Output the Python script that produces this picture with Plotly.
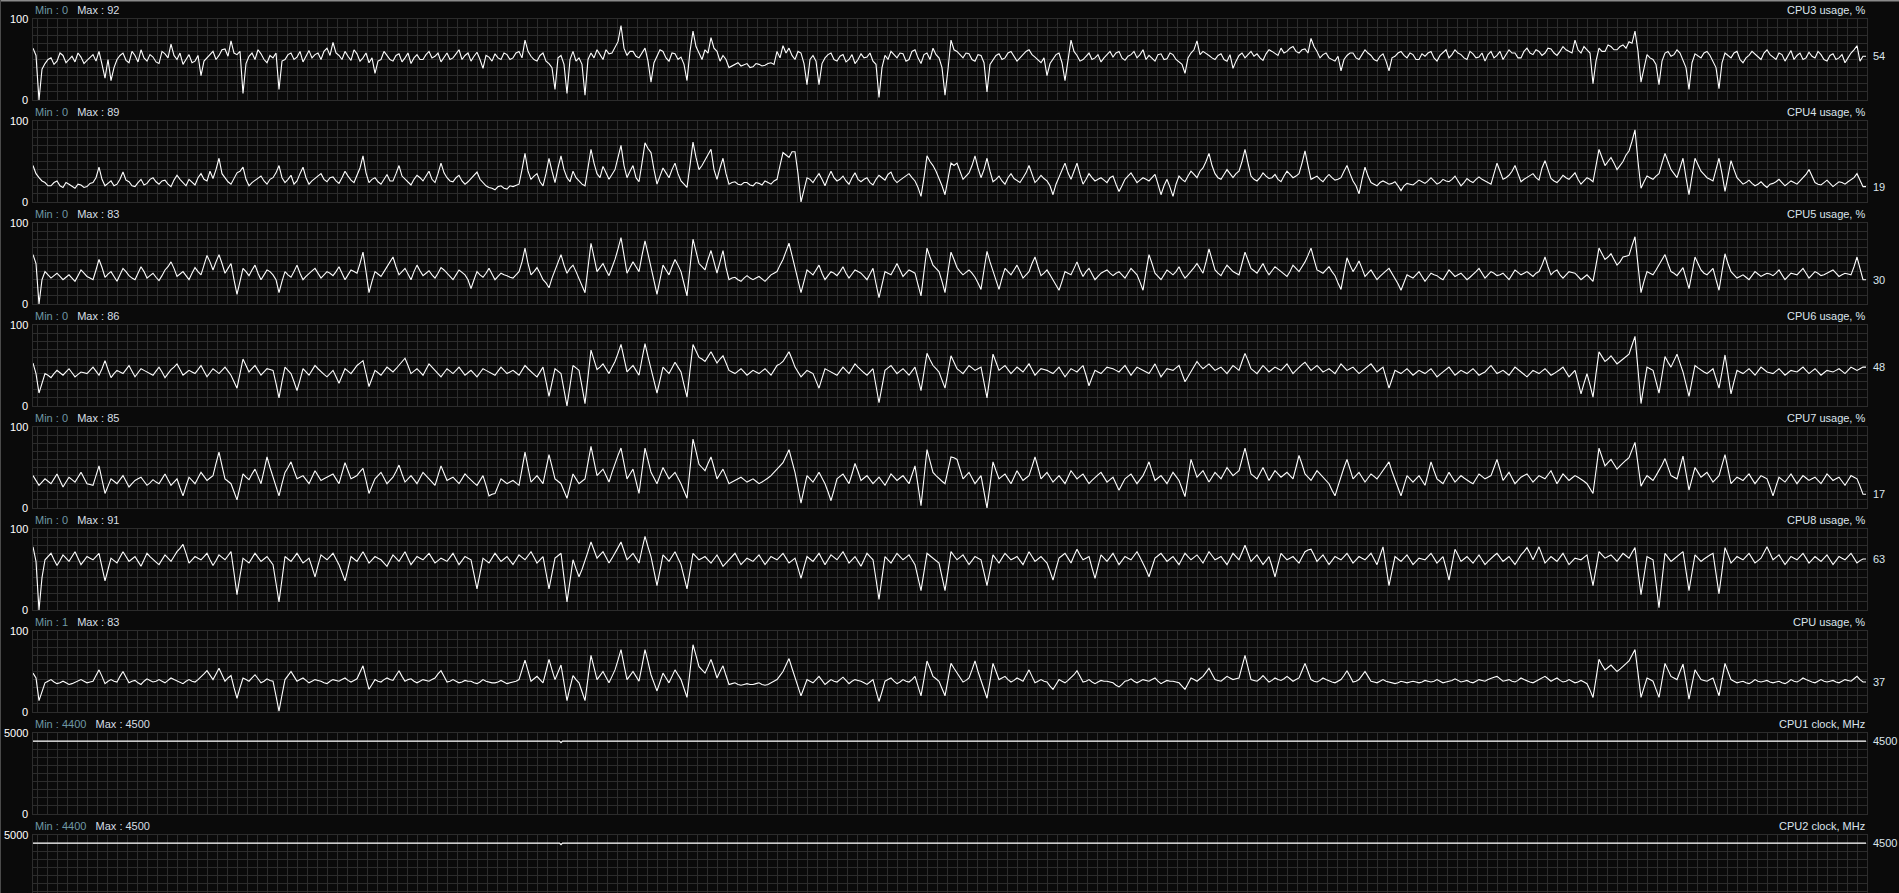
import plotly.graph_objects as go

# ---------------- data ----------------
titles = ["CPU3 usage, %", "CPU4 usage, %", "CPU5 usage, %", "CPU6 usage, %",
          "CPU7 usage, %", "CPU8 usage, %", "CPU usage, %",
          "CPU1 clock, MHz", "CPU2 clock, MHz"]
min_labels = ["0", "0", "0", "0", "0", "0", "1", "4400", "4400"]
max_labels = ["92", "89", "83", "86", "85", "91", "83", "4500", "4500"]
scale_top = [100, 100, 100, 100, 100, 100, 100, 5000, 5000]
scale_top_labels = ["100", "100", "100", "100", "100", "100", "100", "5000", "5000"]
grid_step = [10, 10, 10, 10, 10, 10, 10, 500, 500]

# each usage series is read as two sample sets: "a" = even samples, "b" = odd samples
cpu3_a = [
    64, 0, 45, 52, 48, 55, 50, 47, 53, 49,
    56, 60, 27, 24, 50, 58, 46, 55, 62, 48,
    53, 45, 57, 69, 50, 44, 56, 48, 30, 52,
    60, 55, 63, 73, 56, 8, 54, 50, 57, 46,
    52, 13, 50, 58, 53, 47, 61, 56, 50, 64,
    71, 55, 60, 49, 57, 52, 46, 33, 50, 55,
    48, 57, 52, 45, 56, 50, 60, 54, 47, 58,
    52, 62, 55, 48, 59, 39, 53, 57, 50, 56,
    52, 60, 74, 54, 48, 58, 45, 13, 55, 8,
    60, 52, 6, 58, 62, 50, 57, 66, 92, 55,
    60, 52, 64, 22, 55, 60, 48, 57, 53, 24,
    85, 58, 62, 77, 60, 55, 40, 44, 42, 45,
    41, 44, 43, 46, 60, 67, 64, 50, 58, 19,
    55, 19, 52, 58, 48, 56, 50, 45, 57, 53,
    48, 3, 55, 60, 52, 57, 50, 62, 45, 58,
    64, 52, 6, 74, 60, 52, 57, 48, 55, 10,
    50, 57, 52, 60, 48, 56, 62, 53, 46, 30,
    50, 58, 24, 74, 55, 50, 58, 52, 47, 56,
    53, 60, 49, 56, 52, 62, 55, 48, 57, 51,
    56, 47, 33, 58, 73, 60, 55, 50, 57, 48,
    39, 55, 52, 60, 57, 49, 62, 58, 64, 60,
    66, 58, 63, 76, 60, 56, 52, 48, 36, 55,
    58, 50, 62, 55, 48, 57, 36, 54, 60, 52,
    56, 50, 54, 60, 48, 58, 52, 62, 56, 50,
    57, 53, 48, 60, 55, 50, 62, 58, 52, 64,
    56, 60, 58, 63, 55, 66, 60, 74, 58, 62,
    20, 64, 60, 66, 62, 68, 72, 85, 22, 56,
    50, 19, 58, 54, 62, 50, 13, 57, 52, 60,
    48, 14, 58, 52, 60, 46, 55, 57, 50, 62,
    53, 58, 48, 61, 55, 50, 59, 52, 56, 48,
    57, 52, 46, 58, 67, 54,
]
cpu3_b = [
    55, 38, 50, 44, 58, 46, 54, 58, 45, 52,
    48, 44, 50, 40, 55, 49, 60, 47, 52, 56,
    47, 60, 52, 55, 58, 50, 46, 55, 48, 57,
    50, 62, 54, 58, 60, 45, 58, 62, 50, 55,
    58, 48, 56, 50, 60, 54, 52, 58, 60, 55,
    58, 50, 54, 62, 48, 58, 52, 48, 60, 50,
    55, 47, 58, 52, 50, 56, 52, 58, 53, 50,
    57, 50, 58, 54, 50, 55, 48, 52, 58, 50,
    58, 52, 60, 50, 55, 48, 40, 52, 44, 50,
    48, 44, 50, 52, 56, 62, 58, 72, 64, 60,
    54, 58, 48, 46, 62, 52, 58, 50, 44, 60,
    66, 50, 58, 64, 48, 50, 42, 46, 44, 40,
    45, 42, 45, 44, 52, 58, 55, 60, 45, 50,
    48, 45, 56, 50, 54, 47, 56, 50, 52, 58,
    44, 40, 50, 56, 58, 48, 60, 52, 56, 50,
    56, 40, 38, 62, 56, 58, 50, 56, 46, 44,
    55, 50, 58, 54, 52, 60, 56, 50, 52, 45,
    56, 46, 52, 60, 48, 54, 50, 56, 52, 60,
    58, 52, 54, 60, 56, 50, 52, 56, 50, 58,
    50, 44, 52, 62, 56, 58, 52, 55, 50, 56,
    48, 58, 56, 54, 52, 57, 60, 55, 58, 64,
    60, 62, 58, 66, 52, 58, 50, 54, 50, 58,
    52, 56, 58, 50, 54, 48, 52, 58, 55, 58,
    50, 57, 58, 52, 55, 62, 56, 58, 52, 60,
    52, 58, 56, 52, 60, 56, 58, 52, 60, 58,
    62, 55, 64, 58, 60, 62, 58, 62, 66, 58,
    48, 60, 68, 62, 66, 64, 70, 60, 40, 52,
    44, 48, 60, 56, 58, 40, 46, 54, 58, 55,
    40, 46, 55, 58, 50, 52, 60, 54, 58, 56,
    50, 56, 54, 50, 58, 52, 54, 60, 50, 55,
    50, 56, 52, 62, 48, 54,
]

cpu4_a = [
    45, 30, 24, 20, 26, 18, 22, 17, 21, 19,
    24, 43, 20, 26, 22, 37, 25, 19, 28, 23,
    30, 22, 27, 19, 33, 24, 28, 21, 35, 26,
    29, 54, 30, 22, 36, 43, 20, 27, 32, 22,
    30, 45, 24, 33, 26, 43, 22, 29, 35, 25,
    31, 23, 38, 27, 33, 57, 24, 30, 22, 34,
    26, 45, 28, 21, 33, 26, 38, 24, 48, 30,
    25, 33, 22, 29, 37, 24, 18, 15, 20, 16,
    19, 22, 60, 28, 35, 20, 54, 24, 57, 30,
    38, 26, 20, 65, 35, 44, 28, 40, 70, 30,
    45, 25, 73, 61, 22, 42, 30, 48, 26, 18,
    74, 40, 52, 65, 28, 54, 22, 25, 21, 24,
    20, 23, 26, 22, 28, 61, 55, 62, 0, 30,
    24, 35, 20, 38, 26, 32, 22, 36, 25, 30,
    21, 33, 27, 37, 24, 30, 35, 26, 7, 57,
    45, 30, 9, 48, 48, 28, 36, 57, 30, 54,
    25, 32, 22, 35, 27, 30, 45, 24, 33, 26,
    9, 30, 48, 28, 48, 22, 35, 26, 30, 24,
    32, 13, 28, 36, 24, 30, 26, 34, 9, 28,
    7, 32, 25, 38, 30, 42, 60, 35, 28, 40,
    30, 38, 65, 32, 26, 36, 29, 34, 25, 38,
    30, 35, 63, 28, 32, 25, 34, 27, 30, 45,
    26, 10, 43, 24, 20, 26, 22, 25, 14, 23,
    21, 27, 23, 30, 22, 28, 25, 32, 20, 29,
    24, 31, 26, 22, 48, 28, 33, 45, 25, 30,
    35, 27, 51, 29, 24, 33, 28, 36, 22, 30,
    25, 65, 45, 55, 40, 50, 63, 89, 17, 32,
    28, 35, 60, 40, 30, 54, 9, 54, 38, 30,
    26, 54, 13, 51, 30, 22, 27, 20, 25, 18,
    23, 28, 20, 26, 22, 30, 40, 24, 21, 27,
    19, 25, 22, 28, 35, 19,
]
cpu4_b = [
    35, 26, 20, 24, 20, 24, 19, 22, 18, 23,
    30, 28, 23, 20, 28, 27, 20, 24, 21, 28,
    25, 26, 22, 27, 28, 20, 24, 30, 28, 38,
    40, 35, 25, 30, 38, 28, 24, 30, 26, 28,
    36, 30, 28, 22, 35, 30, 26, 32, 28, 30,
    26, 30, 32, 24, 42, 36, 28, 25, 28, 26,
    35, 32, 24, 28, 30, 32, 28, 35, 36, 26,
    30, 26, 25, 33, 28, 20, 17, 19, 17, 20,
    21, 40, 38, 32, 25, 35, 38, 42, 40, 25,
    30, 22, 42, 48, 30, 36, 34, 55, 45, 38,
    30, 48, 66, 40, 32, 36, 40, 35, 22, 45,
    55, 45, 58, 40, 42, 35, 24, 22, 24, 21,
    24, 21, 24, 26, 45, 58, 62, 35, 15, 28,
    30, 28, 30, 30, 28, 26, 30, 28, 28, 24,
    28, 30, 34, 28, 27, 33, 30, 18, 30, 50,
    38, 20, 30, 45, 38, 32, 45, 42, 40, 38,
    28, 26, 30, 29, 24, 36, 34, 28, 29, 20,
    22, 40, 36, 38, 34, 28, 30, 28, 27, 30,
    22, 20, 32, 30, 27, 28, 30, 22, 20, 18,
    22, 28, 32, 34, 38, 50, 45, 30, 34, 35,
    35, 50, 48, 28, 30, 32, 30, 28, 32, 34,
    32, 48, 45, 30, 28, 30, 30, 28, 38, 35,
    20, 28, 32, 22, 24, 24, 23, 20, 20, 22,
    24, 25, 26, 26, 24, 26, 28, 26, 24, 26,
    28, 28, 24, 35, 38, 30, 38, 35, 28, 32,
    30, 42, 40, 26, 28, 30, 32, 28, 26, 28,
    45, 55, 50, 48, 45, 58, 75, 50, 25, 30,
    32, 48, 50, 35, 42, 30, 32, 46, 34, 28,
    40, 35, 32, 40, 26, 24, 23, 22, 21, 22,
    25, 24, 23, 24, 26, 34, 32, 22, 24, 23,
    22, 24, 25, 30, 26, 19,
]

cpu5_a = [
    61, 0, 40, 32, 38, 30, 36, 28, 42, 34,
    30, 55, 33, 40, 28, 44, 35, 30, 46, 32,
    38, 29, 42, 52, 34, 40, 30, 45, 36, 60,
    42, 61, 38, 50, 12, 44, 35, 48, 30, 42,
    36, 14, 40, 33, 48, 30, 38, 44, 32, 40,
    35, 46, 30, 42, 38, 64, 14, 40, 34, 46,
    58, 36, 44, 30, 48, 35, 41, 32, 45, 38,
    30, 42, 36, 19, 40, 33, 44, 30, 38, 35,
    32, 40, 69, 36, 45, 30, 20, 42, 61, 38,
    48, 32, 14, 75, 40, 50, 35, 55, 82, 38,
    52, 40, 78, 45, 12, 48, 36, 55, 40, 10,
    80, 50, 42, 66, 38, 66, 30, 33, 28, 35,
    30, 34, 28, 36, 40, 55, 75, 45, 14, 42,
    36, 48, 30, 40, 35, 46, 32, 42, 38, 30,
    44, 8, 40, 36, 50, 34, 42, 38, 10, 69,
    48, 40, 14, 64, 45, 36, 42, 33, 18, 65,
    40, 18, 44, 36, 48, 32, 40, 58, 35, 42,
    30, 17, 40, 36, 52, 34, 44, 30, 38, 42,
    35, 40, 32, 44, 36, 17, 61, 38, 30, 42,
    36, 46, 32, 40, 50, 38, 68, 42, 35, 48,
    40, 36, 64, 44, 38, 50, 36, 46, 40, 34,
    48, 40, 52, 69, 42, 38, 46, 35, 18, 57,
    40, 53, 34, 42, 30, 38, 44, 32, 17, 36,
    32, 40, 28, 38, 35, 30, 42, 34, 38, 30,
    36, 44, 32, 40, 35, 38, 30, 42, 36, 40,
    34, 40, 58, 36, 42, 32, 40, 38, 30, 36,
    28, 69, 55, 62, 48, 58, 60, 83, 14, 40,
    36, 48, 61, 40, 35, 45, 19, 58, 42, 36,
    44, 17, 62, 40, 32, 36, 30, 40, 34, 38,
    35, 42, 30, 38, 36, 44, 32, 40, 35, 38,
    42, 34, 38, 36, 58, 30,
]
cpu5_b = [
    50, 30, 36, 35, 34, 33, 32, 35, 38, 32,
    42, 45, 37, 34, 36, 40, 32, 38, 40, 35,
    33, 35, 46, 44, 37, 35, 38, 40, 48, 52,
    52, 50, 44, 30, 28, 40, 42, 38, 36, 40,
    30, 28, 36, 40, 38, 34, 41, 38, 36, 38,
    40, 38, 36, 40, 50, 40, 28, 37, 40, 52,
    46, 40, 37, 40, 41, 38, 36, 38, 42, 34,
    36, 39, 30, 30, 36, 38, 37, 34, 36, 33,
    36, 52, 50, 40, 38, 26, 32, 50, 48, 44,
    40, 24, 45, 58, 45, 42, 45, 68, 60, 45,
    46, 60, 62, 30, 30, 42, 46, 48, 25, 45,
    65, 46, 55, 52, 52, 45, 32, 30, 32, 32,
    32, 31, 32, 38, 48, 65, 60, 30, 28, 39,
    42, 38, 35, 38, 40, 38, 37, 40, 34, 37,
    25, 24, 38, 43, 42, 38, 40, 24, 40, 58,
    44, 28, 40, 55, 40, 39, 38, 26, 42, 52,
    30, 32, 40, 42, 40, 36, 50, 46, 38, 36,
    24, 28, 38, 44, 42, 40, 37, 34, 40, 38,
    38, 36, 38, 40, 27, 40, 50, 34, 36, 39,
    40, 38, 36, 45, 44, 52, 55, 38, 42, 44,
    38, 50, 54, 41, 44, 42, 41, 43, 37, 40,
    44, 46, 60, 55, 40, 42, 40, 26, 38, 48,
    46, 44, 38, 36, 34, 41, 38, 25, 26, 34,
    36, 34, 33, 36, 32, 36, 38, 36, 34, 33,
    40, 38, 36, 38, 36, 34, 36, 39, 38, 37,
    38, 48, 46, 40, 36, 36, 39, 34, 33, 32,
    48, 62, 58, 55, 52, 59, 72, 48, 28, 38,
    42, 55, 50, 38, 40, 32, 38, 50, 38, 40,
    30, 40, 50, 36, 34, 33, 35, 37, 36, 37,
    38, 36, 34, 37, 40, 38, 36, 38, 36, 40,
    38, 36, 37, 46, 44, 30,
]

cpu6_a = [
    53, 16, 40, 35, 44, 38, 46, 36, 42, 40,
    48, 38, 56, 35, 44, 40, 50, 36, 46, 42,
    38, 48, 35, 45, 52, 38, 44, 40, 50, 36,
    46, 40, 48, 38, 22, 58, 42, 50, 38, 46,
    44, 10, 48, 40, 19, 46, 38, 50, 42, 36,
    44, 28, 46, 40, 50, 56, 24, 44, 38, 48,
    42, 50, 59, 40, 46, 38, 52, 44, 36, 46,
    40, 48, 38, 44, 36, 46, 42, 38, 48, 40,
    44, 38, 50, 42, 36, 48, 12, 46, 40, 0,
    50, 44, 3, 69, 45, 52, 40, 55, 76, 42,
    50, 38, 77, 45, 16, 48, 40, 54, 42, 11,
    76, 60, 55, 67, 53, 62, 44, 40, 46, 38,
    44, 40, 46, 38, 50, 55, 67, 48, 36, 44,
    40, 22, 46, 42, 38, 48, 40, 52, 44, 38,
    46, 4, 44, 50, 40, 46, 38, 48, 19, 65,
    50, 42, 22, 62, 46, 40, 50, 44, 48, 10,
    64, 44, 50, 40, 48, 42, 52, 38, 46, 44,
    40, 48, 36, 46, 42, 50, 25, 44, 40, 48,
    46, 42, 50, 38, 48, 44, 40, 52, 36, 46,
    44, 50, 30, 42, 55, 46, 52, 44, 48, 40,
    50, 44, 65, 46, 40, 50, 42, 48, 44, 52,
    40, 48, 54, 44, 50, 42, 46, 40, 52, 44,
    48, 40, 46, 52, 42, 48, 22, 44, 40, 46,
    38, 44, 40, 46, 36, 42, 48, 38, 44, 40,
    46, 38, 42, 50, 40, 44, 38, 48, 42, 36,
    44, 40, 46, 38, 42, 48, 36, 44, 15, 40,
    11, 67, 55, 62, 52, 58, 64, 86, 3, 48,
    44, 16, 61, 48, 64, 42, 12, 50, 44, 40,
    46, 22, 63, 15, 44, 40, 46, 38, 48, 42,
    40, 46, 38, 44, 42, 48, 40, 46, 38, 44,
    42, 46, 40, 48, 44, 48,
]
cpu6_b = [
    40, 28, 38, 40, 41, 42, 41, 39, 41, 44,
    43, 46, 45, 40, 42, 45, 43, 41, 44, 40,
    43, 42, 40, 48, 45, 41, 42, 45, 43, 41,
    43, 44, 43, 30, 40, 50, 46, 44, 42, 45,
    28, 30, 44, 30, 32, 42, 44, 46, 39, 40,
    36, 37, 43, 45, 53, 40, 34, 41, 43, 45,
    46, 55, 50, 43, 42, 45, 48, 40, 41, 43,
    44, 43, 41, 40, 41, 44, 40, 43, 44, 42,
    41, 44, 46, 39, 42, 30, 29, 43, 20, 25,
    47, 24, 36, 57, 48, 46, 48, 65, 59, 46,
    44, 58, 61, 30, 32, 44, 47, 48, 26, 44,
    68, 58, 61, 60, 58, 53, 42, 43, 42, 41,
    42, 43, 42, 44, 52, 61, 58, 42, 40, 42,
    31, 34, 44, 40, 43, 44, 46, 48, 41, 42,
    25, 24, 47, 45, 43, 42, 43, 34, 42, 57,
    46, 32, 42, 54, 43, 45, 47, 46, 29, 37,
    54, 47, 45, 44, 45, 47, 45, 42, 45, 42,
    44, 42, 41, 44, 46, 38, 35, 42, 44, 47,
    44, 46, 44, 43, 46, 42, 46, 44, 41, 45,
    47, 40, 36, 48, 50, 49, 48, 46, 44, 45,
    47, 55, 56, 43, 45, 46, 45, 46, 48, 46,
    44, 51, 49, 47, 46, 44, 43, 46, 48, 46,
    44, 43, 49, 47, 45, 35, 33, 42, 43, 42,
    41, 42, 43, 41, 39, 45, 43, 41, 42, 43,
    42, 40, 46, 45, 42, 41, 43, 45, 39, 40,
    42, 43, 42, 40, 45, 42, 40, 30, 28, 26,
    40, 61, 58, 57, 55, 61, 75, 45, 26, 46,
    30, 38, 54, 56, 53, 27, 31, 47, 42, 43,
    34, 42, 39, 30, 42, 43, 42, 43, 45, 41,
    43, 42, 41, 43, 45, 44, 43, 42, 41, 43,
    44, 43, 44, 46, 46, 48,
]

cpu7_a = [
    40, 28, 36, 30, 42, 26, 38, 32, 44, 30,
    28, 52, 18, 36, 30, 40, 26, 34, 38, 28,
    35, 30, 42, 28, 36, 15, 38, 30, 44, 34,
    40, 69, 36, 30, 10, 42, 35, 48, 30, 63,
    38, 15, 44, 57, 36, 40, 30, 46, 34, 38,
    42, 30, 56, 36, 40, 49, 18, 36, 44, 30,
    38, 53, 32, 40, 30, 44, 36, 28, 52, 34,
    38, 30, 42, 34, 28, 40, 15, 18, 36, 30,
    34, 28, 69, 32, 40, 30, 66, 36, 30, 12,
    42, 30, 36, 76, 40, 48, 32, 56, 74, 36,
    48, 18, 74, 44, 30, 50, 36, 44, 30, 12,
    85, 54, 46, 63, 36, 48, 30, 34, 38, 32,
    36, 30, 34, 40, 48, 56, 72, 44, 6, 40,
    32, 44, 30, 9, 36, 42, 30, 55, 34, 40,
    30, 38, 28, 42, 34, 40, 30, 52, 3, 72,
    44, 36, 30, 63, 60, 36, 44, 30, 40, 0,
    57, 36, 42, 30, 46, 34, 40, 63, 36, 44,
    32, 40, 30, 46, 36, 42, 30, 38, 44, 32,
    38, 22, 36, 42, 30, 40, 57, 34, 40, 30,
    44, 34, 14, 60, 38, 46, 32, 44, 36, 50,
    40, 46, 74, 42, 36, 50, 34, 46, 38, 44,
    36, 65, 42, 34, 46, 38, 30, 15, 40, 60,
    36, 44, 32, 42, 36, 46, 57, 34, 15, 40,
    32, 40, 28, 57, 36, 30, 44, 32, 40, 34,
    30, 42, 36, 40, 60, 34, 44, 30, 38, 42,
    32, 40, 36, 46, 30, 42, 34, 40, 36, 30,
    18, 74, 52, 60, 48, 56, 62, 81, 27, 40,
    34, 46, 61, 40, 36, 64, 22, 50, 38, 44,
    32, 40, 66, 30, 38, 34, 42, 30, 40, 36,
    15, 38, 32, 42, 30, 40, 34, 38, 30, 42,
    34, 38, 28, 40, 36, 17,
]
cpu7_b = [
    34, 32, 33, 36, 34, 32, 35, 38, 37, 29,
    40, 35, 27, 33, 35, 33, 30, 36, 33, 31,
    32, 36, 35, 32, 25, 27, 34, 37, 39, 37,
    55, 52, 33, 20, 26, 38, 42, 39, 46, 50,
    27, 30, 50, 46, 38, 35, 38, 40, 36, 40,
    36, 43, 46, 38, 45, 34, 27, 40, 37, 34,
    45, 42, 36, 35, 37, 40, 32, 40, 43, 36,
    34, 36, 38, 31, 34, 28, 17, 27, 33, 32,
    31, 48, 50, 36, 35, 48, 51, 33, 21, 27,
    36, 33, 56, 58, 44, 40, 44, 65, 55, 42,
    33, 46, 59, 37, 40, 43, 40, 37, 21, 48,
    70, 50, 55, 50, 42, 39, 32, 36, 35, 34,
    33, 32, 37, 44, 52, 64, 58, 25, 23, 36,
    38, 37, 20, 22, 39, 36, 42, 45, 37, 35,
    34, 33, 35, 38, 37, 35, 41, 28, 37, 58,
    40, 33, 46, 62, 48, 40, 37, 35, 20, 28,
    46, 39, 36, 38, 40, 37, 51, 50, 40, 38,
    36, 35, 38, 41, 39, 36, 34, 41, 38, 35,
    30, 29, 39, 36, 35, 48, 45, 37, 35, 37,
    39, 24, 37, 49, 42, 39, 38, 40, 43, 45,
    43, 60, 58, 39, 43, 42, 40, 42, 41, 40,
    50, 54, 38, 40, 42, 34, 22, 27, 50, 48,
    40, 38, 37, 39, 41, 51, 45, 25, 28, 36,
    36, 34, 42, 46, 33, 37, 38, 36, 37, 32,
    36, 39, 38, 50, 47, 39, 37, 34, 40, 37,
    36, 38, 41, 38, 36, 38, 37, 38, 33, 24,
    46, 63, 56, 54, 52, 59, 72, 54, 34, 37,
    40, 53, 50, 38, 50, 43, 36, 44, 41, 38,
    36, 53, 48, 34, 36, 38, 36, 35, 38, 26,
    27, 35, 37, 36, 35, 37, 36, 34, 36, 38,
    36, 33, 34, 38, 27, 17,
]

cpu8_a = [
    78, 0, 62, 70, 55, 68, 60, 72, 56, 66,
    62, 70, 36, 64, 58, 72, 60, 66, 54, 70,
    62, 56, 68, 60, 72, 81, 58, 66, 62, 70,
    55, 68, 62, 72, 19, 64, 58, 70, 60, 66,
    56, 10, 66, 60, 70, 58, 64, 41, 68, 62,
    70, 56, 36, 66, 60, 72, 58, 66, 62, 54,
    68, 60, 72, 56, 66, 62, 70, 58, 64, 60,
    70, 56, 66, 62, 26, 64, 58, 70, 60, 66,
    56, 68, 62, 72, 58, 66, 26, 64, 70, 10,
    62, 41, 60, 84, 64, 72, 58, 70, 84, 62,
    70, 58, 91, 66, 30, 68, 60, 72, 56, 26,
    70, 62, 66, 58, 68, 54, 62, 70, 56, 64,
    60, 68, 56, 66, 62, 70, 58, 64, 39, 66,
    60, 70, 56, 68, 62, 72, 58, 66, 54, 70,
    62, 13, 66, 58, 70, 62, 68, 56, 24, 70,
    64, 58, 24, 72, 62, 68, 56, 66, 62, 30,
    68, 58, 70, 62, 66, 56, 72, 60, 66, 58,
    37, 64, 70, 58, 75, 62, 66, 39, 68, 60,
    70, 56, 66, 62, 72, 58, 41, 64, 70, 60,
    66, 56, 70, 62, 68, 58, 72, 62, 66, 56,
    70, 62, 80, 60, 68, 56, 66, 41, 70, 62,
    66, 58, 72, 75, 60, 68, 56, 66, 62, 70,
    58, 66, 62, 70, 56, 78, 30, 66, 60, 68,
    56, 64, 62, 70, 58, 66, 37, 75, 60, 66,
    58, 68, 56, 64, 70, 60, 66, 56, 68, 77,
    62, 78, 58, 66, 60, 70, 56, 64, 62, 68,
    30, 72, 64, 68, 60, 70, 64, 77, 19, 66,
    62, 3, 70, 60, 66, 72, 24, 68, 60, 66,
    70, 20, 77, 58, 66, 62, 70, 58, 64, 78,
    62, 68, 56, 66, 62, 70, 58, 66, 60, 68,
    56, 66, 62, 70, 58, 63,
]
cpu8_b = [
    60, 40, 66, 62, 61, 64, 66, 64, 61, 64,
    66, 53, 50, 61, 65, 66, 63, 60, 62, 66,
    59, 62, 64, 66, 76, 70, 62, 64, 66, 62,
    61, 65, 67, 46, 42, 61, 64, 65, 63, 61,
    33, 38, 63, 65, 64, 61, 53, 55, 65, 66,
    63, 46, 51, 63, 66, 65, 62, 64, 58, 61,
    64, 66, 64, 61, 64, 66, 64, 61, 62, 65,
    63, 61, 64, 44, 45, 61, 64, 65, 63, 61,
    62, 65, 67, 65, 62, 46, 45, 67, 40, 36,
    51, 50, 72, 74, 68, 65, 64, 77, 73, 66,
    64, 75, 78, 48, 49, 64, 66, 64, 41, 48,
    66, 64, 62, 63, 61, 58, 66, 63, 60, 62,
    64, 62, 61, 64, 66, 64, 61, 52, 53, 63,
    65, 63, 62, 65, 67, 65, 62, 60, 62, 66,
    38, 40, 62, 64, 66, 65, 62, 40, 47, 67,
    61, 41, 48, 67, 65, 62, 61, 64, 46, 49,
    63, 64, 66, 64, 61, 64, 66, 63, 62, 48,
    51, 67, 64, 67, 68, 64, 52, 54, 64, 65,
    63, 61, 64, 67, 65, 50, 53, 67, 65, 63,
    61, 63, 66, 65, 63, 65, 67, 64, 61, 63,
    66, 71, 70, 64, 62, 61, 54, 56, 66, 64,
    62, 65, 74, 68, 64, 62, 61, 64, 66, 64,
    62, 64, 66, 63, 67, 54, 48, 63, 64, 62,
    60, 63, 66, 64, 62, 52, 56, 68, 63, 62,
    63, 62, 60, 67, 65, 63, 61, 62, 72, 70,
    70, 68, 62, 63, 65, 63, 60, 63, 65, 49,
    51, 68, 66, 64, 65, 67, 71, 48, 42, 64,
    33, 37, 65, 63, 69, 48, 46, 64, 63, 68,
    45, 48, 68, 62, 64, 66, 64, 61, 71, 70,
    65, 62, 61, 64, 66, 64, 62, 63, 64, 62,
    61, 64, 66, 64, 61, 63,
]

cpu_a = [
    48, 14, 36, 40, 35, 38, 34, 37, 40, 36,
    38, 52, 35, 40, 37, 50, 36, 39, 34, 41,
    37, 40, 36, 42, 38, 35, 40, 37, 43, 51,
    40, 54, 38, 45, 17, 42, 38, 46, 36, 41,
    38, 1, 40, 50, 38, 42, 36, 40, 38, 35,
    40, 38, 42, 37, 41, 57, 28, 40, 37, 42,
    39, 51, 38, 41, 36, 40, 38, 42, 51, 37,
    40, 36, 39, 38, 35, 40, 37, 36, 39, 35,
    37, 40, 64, 38, 44, 36, 65, 40, 58, 14,
    45, 36, 14, 70, 40, 50, 36, 52, 77, 40,
    50, 38, 77, 46, 26, 48, 36, 52, 40, 18,
    83, 56, 48, 65, 42, 57, 34, 36, 33, 35,
    34, 36, 33, 36, 40, 50, 66, 42, 20, 40,
    36, 44, 34, 40, 37, 43, 35, 40, 38, 34,
    40, 13, 38, 42, 35, 40, 37, 44, 20, 63,
    44, 38, 20, 60, 48, 37, 42, 63, 38, 17,
    60, 40, 44, 37, 42, 38, 52, 36, 40, 37,
    28, 40, 36, 42, 51, 37, 40, 35, 39, 38,
    36, 31, 38, 41, 36, 40, 38, 42, 35, 39,
    38, 36, 28, 42, 38, 44, 54, 40, 38, 44,
    40, 42, 70, 40, 38, 45, 37, 42, 39, 44,
    38, 42, 60, 40, 37, 42, 38, 36, 40, 51,
    37, 40, 50, 38, 36, 40, 37, 35, 38, 36,
    38, 36, 39, 37, 40, 36, 38, 41, 37, 39,
    36, 40, 38, 42, 44, 38, 40, 37, 42, 38,
    36, 40, 44, 38, 42, 37, 40, 36, 39, 35,
    18, 65, 52, 58, 50, 56, 63, 77, 18, 42,
    38, 18, 60, 44, 40, 59, 16, 52, 40, 38,
    42, 20, 60, 40, 36, 38, 35, 40, 37, 39,
    36, 38, 35, 40, 37, 42, 38, 36, 40, 37,
    39, 36, 40, 38, 44, 37,
]
cpu_b = [
    42, 25, 38, 37, 36, 36, 35, 38, 38, 37,
    45, 44, 38, 38, 44, 43, 38, 36, 38, 39,
    38, 38, 39, 40, 36, 38, 38, 40, 47, 46,
    47, 46, 42, 30, 30, 40, 42, 41, 38, 39,
    20, 21, 45, 44, 40, 39, 38, 39, 36, 38,
    39, 40, 39, 39, 49, 42, 34, 38, 40, 40,
    45, 44, 40, 38, 38, 39, 40, 47, 44, 38,
    38, 37, 38, 36, 37, 38, 36, 37, 37, 36,
    38, 52, 51, 41, 40, 50, 52, 49, 36, 30,
    40, 25, 42, 55, 45, 43, 44, 64, 58, 45,
    44, 57, 62, 36, 37, 42, 44, 46, 29, 50,
    70, 52, 56, 54, 50, 45, 35, 34, 34, 34,
    35, 34, 34, 38, 45, 58, 54, 31, 30, 38,
    40, 39, 37, 38, 40, 39, 38, 39, 36, 37,
    26, 25, 40, 38, 37, 38, 40, 32, 41, 54,
    41, 29, 40, 54, 42, 39, 52, 50, 28, 38,
    50, 42, 40, 39, 40, 45, 44, 38, 38, 32,
    34, 38, 39, 46, 44, 38, 37, 37, 38, 37,
    33, 34, 39, 38, 38, 39, 40, 38, 37, 38,
    37, 32, 35, 40, 41, 49, 47, 39, 41, 42,
    41, 56, 55, 39, 41, 41, 39, 40, 41, 41,
    40, 51, 50, 38, 39, 40, 37, 38, 45, 44,
    38, 45, 44, 37, 38, 38, 36, 36, 37, 37,
    37, 37, 38, 38, 38, 37, 39, 39, 38, 37,
    38, 39, 40, 43, 41, 39, 38, 39, 40, 37,
    38, 42, 41, 40, 39, 38, 38, 37, 37, 27,
    41, 58, 55, 54, 53, 60, 70, 48, 30, 40,
    28, 39, 52, 42, 50, 38, 34, 46, 39, 40,
    31, 40, 50, 38, 37, 36, 37, 38, 38, 37,
    37, 36, 37, 38, 39, 40, 37, 38, 38, 38,
    37, 38, 39, 41, 40, 37,
]

# clock series: sample index -> value (constant 4500 with one 4400 sample)
clock_idx = [0, 175.5, 176, 176.5, 611]
cpu1_clock = [4500, 4500, 4400, 4500, 4500]
cpu2_clock = [4500, 4500, 4400, 4500, 4500]


def interleave(a, b):
    assert len(a) == len(b), (len(a), len(b))
    out = []
    for u, v in zip(a, b):
        out += [u, v]
    return out


usage = [interleave(cpu3_a, cpu3_b), interleave(cpu4_a, cpu4_b),
         interleave(cpu5_a, cpu5_b), interleave(cpu6_a, cpu6_b),
         interleave(cpu7_a, cpu7_b), interleave(cpu8_a, cpu8_b),
         interleave(cpu_a, cpu_b)]
usage_idx = list(range(len(usage[0])))
series_x = [usage_idx] * 7 + [clock_idx, clock_idx]
series_y = usage + [cpu1_clock, cpu2_clock]

# ---------------- layout / style ----------------
W, H = 1899, 893
X0, X1 = 33, 1867          # plot area, px
STEP = 3                   # px per sample
TOP0, PITCH, PH = 19, 102, 81
BG = "#0a0a0a"
GRID = "#2c2c2c"
FONT = "Liberation Sans, Arial, sans-serif"
MIN_COL = "#6f98a4"
MAX_COL = "#d6dee4"
TITLE_COL = "#dbe4ec"

xr = (X1 - X0) / STEP

fig = go.Figure()
layout = dict(
    width=W, height=H, autosize=False,
    margin=dict(l=0, r=0, t=0, b=0, pad=0),
    paper_bgcolor=BG, plot_bgcolor=BG,
    showlegend=False, hovermode=False,
)
annotations = []
shapes = []


def py(p):
    return 1 - p / H


for k in range(9):
    top = TOP0 + PITCH * k
    bot = top + PH
    smax = scale_top[k]
    lo = 0.0
    vis_bot = bot
    if bot > H:
        vis_bot = H
        lo = smax * (bot - H) / PH
    sfx = "" if k == 0 else str(k + 1)
    layout["xaxis" + sfx] = dict(
        domain=[X0 / W, X1 / W], range=[0, xr], anchor="y" + sfx,
        showgrid=True, gridcolor=GRID, gridwidth=1,
        tick0=4 / STEP, dtick=10 / STEP, showticklabels=False, ticks="",
        zeroline=False, showline=True, mirror=True, linecolor=GRID, linewidth=1,
        fixedrange=True,
    )
    layout["yaxis" + sfx] = dict(
        domain=[py(vis_bot), py(top)], range=[lo, smax], anchor="x" + sfx,
        showgrid=True, gridcolor=GRID, gridwidth=1,
        tick0=0, dtick=grid_step[k], showticklabels=False, ticks="",
        zeroline=False, showline=True, mirror=True, linecolor=GRID, linewidth=1,
        fixedrange=True,
    )
    fig.add_trace(go.Scatter(
        x=series_x[k], y=series_y[k], mode="lines",
        line=dict(color="#ffffff", width=1.1),
        xaxis="x" + sfx, yaxis="y" + sfx, hoverinfo="skip",
    ))
    # header: Min / Max
    annotations.append(dict(
        xref="paper", yref="paper", x=X0 / W, y=py(top - 9),
        xanchor="left", yanchor="middle", showarrow=False,
        text=(f"<span style='color:{MIN_COL}'>Min : {min_labels[k]}</span>"
              f"&nbsp;&nbsp;&nbsp;<span style='color:{MAX_COL}'>Max : {max_labels[k]}</span>"),
        font=dict(family=FONT, size=11, color=MAX_COL),
    ))
    # title at right
    annotations.append(dict(
        xref="paper", yref="paper", x=X1 / W, y=py(top - 9),
        xanchor="right", yanchor="middle", showarrow=False,
        text=titles[k], font=dict(family=FONT, size=11, color=TITLE_COL),
    ))
    # scale labels
    annotations.append(dict(
        xref="paper", yref="paper", x=30 / W, y=py(top),
        xanchor="right", yanchor="middle", showarrow=False,
        text=scale_top_labels[k], font=dict(family=FONT, size=11, color="#ffffff"),
    ))
    if bot < H:
        annotations.append(dict(
            xref="paper", yref="paper", x=30 / W, y=py(bot),
            xanchor="right", yanchor="middle", showarrow=False,
            text="0", font=dict(family=FONT, size=11, color="#ffffff"),
        ))
    # current value at the right end
    cur = series_y[k][-1]
    cur_px = bot - cur / smax * PH
    annotations.append(dict(
        xref="paper", yref="paper", x=(X1 + 4) / W, y=py(cur_px),
        xanchor="left", yanchor="middle", showarrow=False,
        text=str(cur), font=dict(family=FONT, size=11, color=TITLE_COL),
    ))

# window frame lines (top and left)
shapes.append(dict(type="line", xref="paper", yref="paper", x0=0, x1=1,
                   y0=py(0.5), y1=py(0.5), line=dict(color="#8a8a8a", width=2)))
shapes.append(dict(type="line", xref="paper", yref="paper", x0=0.5 / W, x1=0.5 / W,
                   y0=0, y1=1, line=dict(color="#4a4a4a", width=1)))

layout["annotations"] = annotations
layout["shapes"] = shapes
fig.update_layout(**layout)

fig.write_html(
    "out.html",
    config={"displayModeBar": False, "staticPlot": True},
    post_script="document.body.style.margin='0';document.body.style.background='#0a0a0a';document.body.style.overflow='hidden';",
)
